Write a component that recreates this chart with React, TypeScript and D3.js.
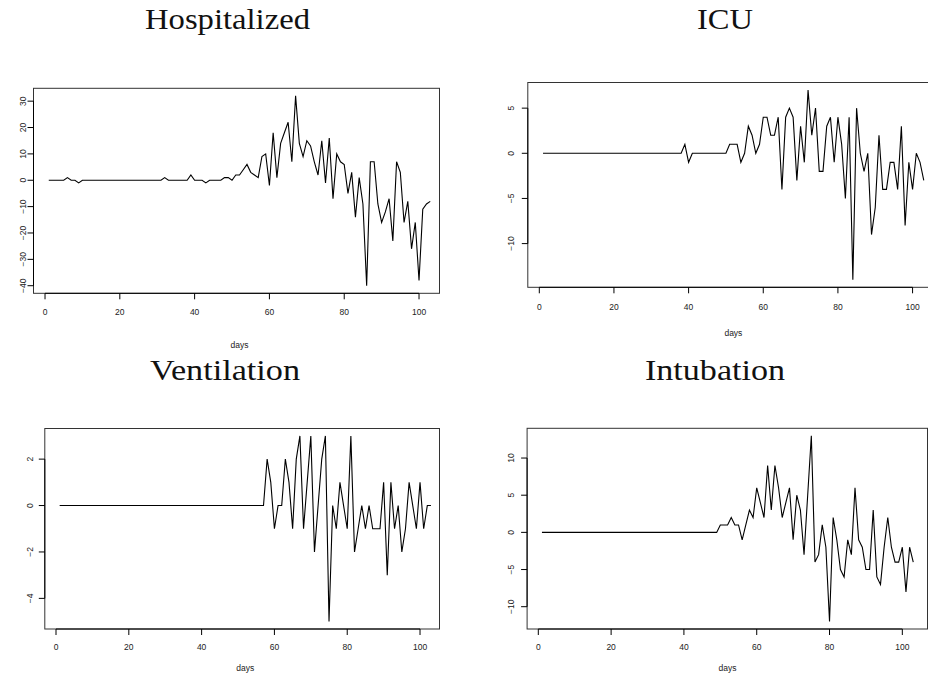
import React from 'react';
import * as d3 from 'd3';

const W = 928;
const H = 677;

// daily changes, day 1..103
const hospitalized = [
  0, 0, 0, 0, 0, 1, 0, 0, -1, 0,
  0, 0, 0, 0, 0, 0, 0, 0, 0, 0,
  0, 0, 0, 0, 0, 0, 0, 0, 0, 0,
  0, 1, 0, 0, 0, 0, 0, 0, 2, 0,
  0, 0, -1, 0, 0, 0, 0, 1, 1, 0,
  2, 2, 4, 6, 3, 2, 1, 9, 10, -2,
  18, 1, 14, 18, 22, 7, 32, 14, 9, 15,
  13, 7, 2, 15, -1, 16, -7, 10, 7, 6,
  -5, 3, -14, 1, -9, -40, 7, 7, -9, -16,
  -12, -7, -23, 7, 3, -16, -8, -26, -16, -38,
  -11, -9, -8,
];

const icu = [
  0, 0, 0, 0, 0, 0, 0, 0, 0, 0,
  0, 0, 0, 0, 0, 0, 0, 0, 0, 0,
  0, 0, 0, 0, 0, 0, 0, 0, 0, 0,
  0, 0, 0, 0, 0, 0, 0, 0, 1, -1,
  0, 0, 0, 0, 0, 0, 0, 0, 0, 0,
  1, 1, 1, -1, 0, 3, 2, 0, 1, 4,
  4, 2, 2, 4, -4, 4, 5, 4, -3, 3,
  -1, 7, 2, 5, -2, -2, 3, 4, -1, 4,
  1, -5, 4, -14, 5, 0, -2, 0, -9, -6,
  2, -4, -4, -1, -1, -4, 3, -8, -1, -4,
  0, -1, -3,
];

const ventilation = [
  0, 0, 0, 0, 0, 0, 0, 0, 0, 0,
  0, 0, 0, 0, 0, 0, 0, 0, 0, 0,
  0, 0, 0, 0, 0, 0, 0, 0, 0, 0,
  0, 0, 0, 0, 0, 0, 0, 0, 0, 0,
  0, 0, 0, 0, 0, 0, 0, 0, 0, 0,
  0, 0, 0, 0, 0, 0, 0, 2, 1, -1,
  0, 0, 2, 1, -1, 2, 3, -1, 1, 3,
  -2, 0, 2, 3, -5, 0, -1, 1, 0, -1,
  3, -2, -1, 0, -1, 0, -1, -1, -1, 1,
  -3, 1, -1, 0, -2, -1, 1, 0, -1, 1,
  -1, 0, 0,
];

const intubation = [
  0, 0, 0, 0, 0, 0, 0, 0, 0, 0,
  0, 0, 0, 0, 0, 0, 0, 0, 0, 0,
  0, 0, 0, 0, 0, 0, 0, 0, 0, 0,
  0, 0, 0, 0, 0, 0, 0, 0, 0, 0,
  0, 0, 0, 0, 0, 0, 0, 0, 0, 1,
  1, 1, 2, 1, 1, -1, 1, 3, 2, 6,
  4, 2, 9, 3, 9, 6, 2, 4, 6, -1,
  5, 3, -3, 5, 13, -4, -3, 1, -2, -12,
  2, -1, -5, -6, -1, -3, 6, -1, -2, -5,
  -5, 3, -6, -7, -2, 2, -2, -4, -4, -2,
  -8, -2, -4,
];

const xTicks = [0, 20, 40, 60, 80, 100];
const hospTicks = [-40, -30, -20, -10, 0, 10, 20, 30];
const icuTicks = [-10, -5, 0, 5];
const ventTicks = [-4, -2, 0, 2];
const intubTicks = [-10, -5, 0, 5, 10];

// R-style 4% padding of the data range
function padded(ext: [number, number]): [number, number] {
  const d = (ext[1] - ext[0]) * 0.04;
  return [ext[0] - d, ext[1] + d];
}

const fmt = (v: number) => (v < 0 ? '\u2212' + Math.abs(v) : String(v));

interface PanelProps {
  title: string;
  values: number[];
  yTicks: number[];
  left: number;
  right: number;     // end of the x range
  boxRight: number;  // where the frame is cut off
  top: number;
  bottom: number;
  titleX: number;
  titleY: number;
  titleLen: number;
  yLabX: number;
  xLabY: number;
  daysY: number;
}

function Panel(p: PanelProps) {
  const days = p.values.map((_, i) => i + 1);
  const x = d3.scaleLinear()
    .domain(padded(d3.extent(days) as [number, number]))
    .range([p.left, p.right]);
  const y = d3.scaleLinear()
    .domain(padded(d3.extent(p.values) as [number, number]))
    .range([p.bottom, p.top]);

  const line = d3.line<number>()
    .x((_, i) => x(days[i]))
    .y(d => y(d));

  const tickFont = { fontFamily: '"Liberation Sans", Arial, sans-serif', fontSize: 8.5, fill: '#222' };
  const yMin = d3.min(p.yTicks) as number;
  const yMax = d3.max(p.yTicks) as number;

  return (
    <g>
      <text
        x={p.titleX}
        y={p.titleY}
        textAnchor="middle"
        textLength={p.titleLen}
        lengthAdjust="spacingAndGlyphs"
        style={{ fontFamily: '"Liberation Serif", "Times New Roman", serif', fontSize: 30, fill: '#111' }}
      >
        {p.title}
      </text>

      {/* plot box */}
      <rect
        x={p.left}
        y={p.top}
        width={p.boxRight - p.left}
        height={p.bottom - p.top}
        fill="none"
        stroke="#333"
        strokeWidth={1}
      />

      {/* x axis */}
      <line x1={x(xTicks[0])} x2={x(xTicks[xTicks.length - 1])} y1={p.bottom} y2={p.bottom} stroke="#000" />
      {xTicks.map(t => (
        <g key={'x' + t}>
          <line x1={x(t)} x2={x(t)} y1={p.bottom} y2={p.bottom + 6} stroke="#000" />
          <text x={x(t)} y={p.xLabY} textAnchor="middle" dominantBaseline="central" style={tickFont}>
            {fmt(t)}
          </text>
        </g>
      ))}
      <text
        x={(p.left + p.right) / 2}
        y={p.daysY}
        textAnchor="middle"
        dominantBaseline="central"
        style={tickFont}
      >
        days
      </text>

      {/* y axis */}
      <line x1={p.left} x2={p.left} y1={y(yMin)} y2={y(yMax)} stroke="#000" />
      {p.yTicks.map(t => (
        <g key={'y' + t}>
          <line x1={p.left - 6} x2={p.left} y1={y(t)} y2={y(t)} stroke="#000" />
          <text
            transform={`translate(${p.yLabX},${y(t)}) rotate(-90)`}
            textAnchor="middle"
            dominantBaseline="central"
            style={tickFont}
          >
            {fmt(t)}
          </text>
        </g>
      ))}

      <path d={line(p.values) || ''} fill="none" stroke="#000" strokeWidth={1.1} strokeLinejoin="miter" />
    </g>
  );
}

export default function App() {
  return (
    <svg
      width={W}
      height={H}
      viewBox={`0 0 ${W} ${H}`}
      style={{ position: 'absolute', left: 0, top: 0, background: '#fff' }}
    >
      <Panel
        title="Hospitalized" values={hospitalized} yTicks={hospTicks}
        left={33.5} right={445.5} boxRight={439.5} top={88.3} bottom={293.3}
        titleX={227.5} titleY={28.5} titleLen={165}
        yLabX={22.5} xLabY={311.7} daysY={344.5}
      />
      <Panel
        title="ICU" values={icu} yTicks={icuTicks}
        left={527.8} right={939} boxRight={939} top={82.5} bottom={287.3}
        titleX={725} titleY={28.5} titleLen={56}
        yLabX={511} xLabY={306.7} daysY={333}
      />
      <Panel
        title="Ventilation" values={ventilation} yTicks={ventTicks}
        left={44.8} right={445.8} boxRight={439.5} top={428.5} bottom={629}
        titleX={225} titleY={380} titleLen={150}
        yLabX={29.5} xLabY={646.7} daysY={668}
      />
      <Panel
        title="Intubation" values={intubation} yTicks={intubTicks}
        left={527.1} right={928.1} boxRight={927.5} top={428.3} bottom={629}
        titleX={715} titleY={380} titleLen={140}
        yLabX={511} xLabY={646.7} daysY={668}
      />
    </svg>
  );
}
